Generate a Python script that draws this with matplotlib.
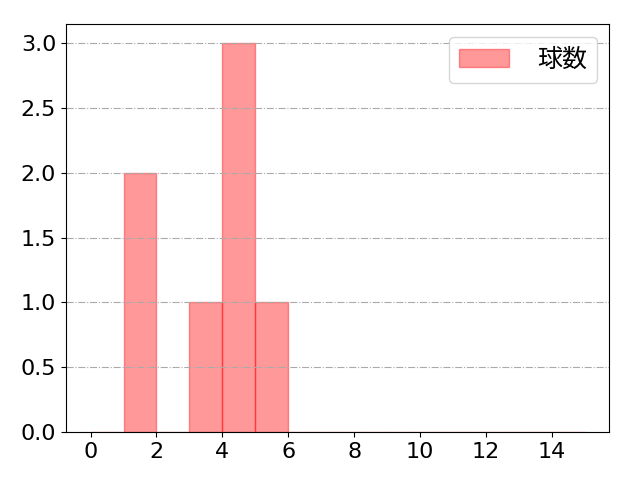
import matplotlib
matplotlib.use("Agg")
import matplotlib.pyplot as plt

plt.rcParams['font.family'] = ['DejaVu Sans', 'Noto Sans CJK JP']
plt.rcParams['font.size'] = 16

values = [1, 1, 3, 4, 4, 4, 5]
bins = list(range(0, 16))
label = "球数"

fig, ax = plt.subplots(figsize=(6.4, 4.8), dpi=100)
fig.subplots_adjust(left=0.103, right=0.952, top=0.95, bottom=0.1)
ax.hist(values, bins=bins, color="red", alpha=0.4, edgecolor="red", linewidth=1.0, label=label)
ax.grid(axis="y", linestyle="-.", color="#aaaaaa", linewidth=0.8)
ax.set_xticks(range(0, 16, 2))
ax.set_yticks([0, 0.5, 1.0, 1.5, 2.0, 2.5, 3.0])
ax.legend(loc="upper right", prop={'family': ['Noto Sans CJK JP'], 'size': 18},
          handletextpad=1.1)
fig.savefig("out.png")
